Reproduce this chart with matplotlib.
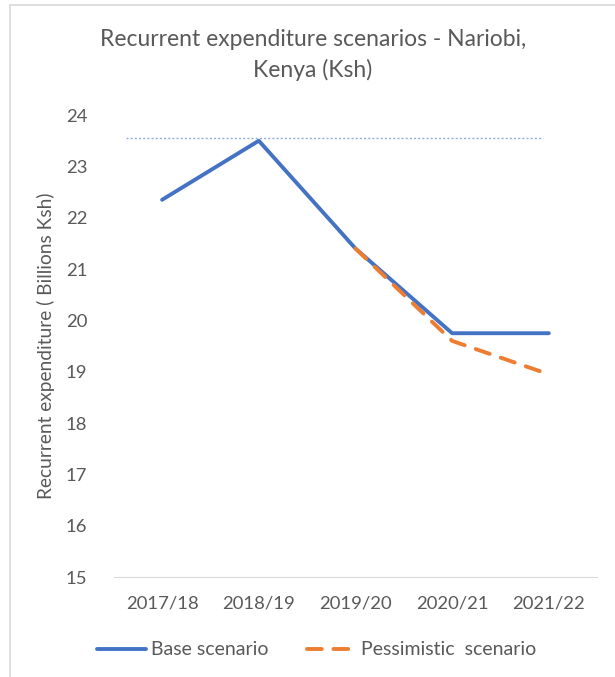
import numpy as np
import matplotlib
matplotlib.use("Agg")
import matplotlib.pyplot as plt
from matplotlib.patches import Rectangle

plt.rcParams["font.family"] = ["Lato", "DejaVu Sans"]

years = ["2017/18", "2018/19", "2019/20", "2020/21", "2021/22"]
base = [22.35, 23.5, 21.4, 19.75, 19.75]
pessimistic = [np.nan, np.nan, 21.4, 19.6, 18.95]
ref_level = 23.55

grey = "#595959"
blue = "#4472C4"
orange = "#ED7D31"

fig = plt.figure(figsize=(6.15, 6.77), dpi=100)
ax = fig.add_axes([0.185, 0.1477, 0.786, 0.6823])

x = np.arange(len(years))
ax.hlines(ref_level, -0.37, 3.92, colors="#8FAADC", linestyles=(0, (1.5, 1.5)), lw=1)
ax.plot(x, base, color=blue, lw=2.8, solid_capstyle="round", label="Base scenario")
ax.plot(x, pessimistic, color=orange, lw=2.8, ls=(0, (3.8, 3)), dash_capstyle="round",
        label="Pessimistic  scenario")

ax.set_xlim(-0.5, 4.5)
ax.set_ylim(15, 24)
ax.set_yticks(range(15, 25))
ax.set_xticks(x)
ax.set_xticklabels(years)
ax.tick_params(axis="both", length=0, labelsize=13.3, labelcolor=grey)
ax.tick_params(axis="x", pad=13)
ax.tick_params(axis="y", pad=19)
for side in ["top", "right", "left"]:
    ax.spines[side].set_visible(False)
ax.spines["bottom"].set_color("#d9d9d9")
ax.set_ylabel("Recurrent expenditure ( Billions Ksh)", fontsize=13.8, color=grey, labelpad=8)

fig.text(0.509, 0.919, "Recurrent expenditure scenarios - Nariobi,\nKenya (Ksh)",
         ha="center", va="center", fontsize=16.5, color=grey, linespacing=1.5)

fig.legend(loc="center", bbox_to_anchor=(0.515, 0.04), ncol=2, frameon=False,
           fontsize=14, labelcolor=grey, handlelength=2.5, columnspacing=2.0,
           handletextpad=0.25)

fig.add_artist(Rectangle((10 / 615, -0.05), 1.2, 1.05 - 5 / 677, transform=fig.transFigure,
                         fill=False, edgecolor="#d9d9d9", lw=1.2))

fig.savefig("out.png", dpi=100)
